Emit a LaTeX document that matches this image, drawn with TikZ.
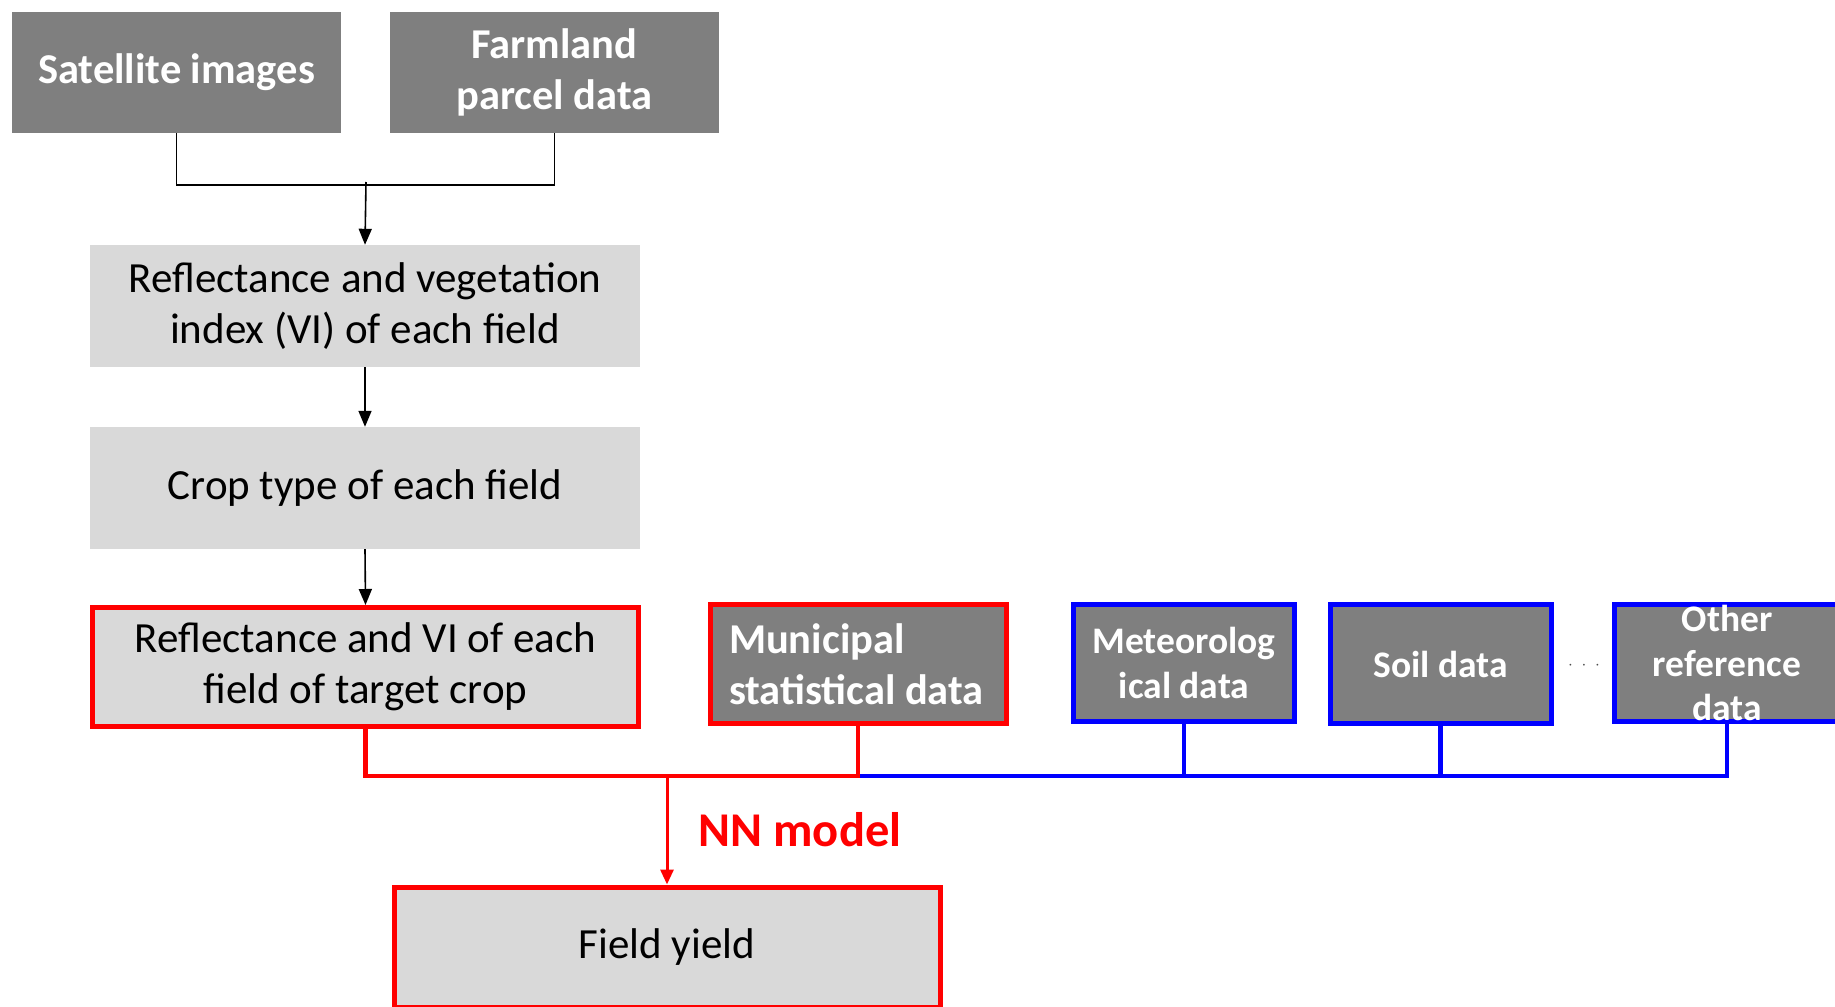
\documentclass[tikz,border=0pt]{standalone}
\usepackage{fontspec}
\setmainfont{Carlito}
\usetikzlibrary{arrows.meta}
\definecolor{dgray}{HTML}{7F7F7F}
\definecolor{lgray}{HTML}{D9D9D9}
\definecolor{pred}{HTML}{FF0000}
\definecolor{pblue}{HTML}{0000FF}
\tikzset{
  darkbox/.style={fill=dgray, text=white, font=\fontsize{42.5}{51}\selectfont\bfseries, align=center, inner sep=0pt},
  smalldark/.style={darkbox, font=\fontsize{37.5}{44.5}\selectfont\bfseries},
  lightbox/.style={fill=lgray, text=black, font=\fontsize{43}{51}\selectfont, align=center, inner sep=0pt},
  redframe/.style={draw=pred, line width=5pt},
  blueframe/.style={draw=pblue, line width=5pt},
  blk/.style={draw=black, line width=1.6pt},
  blkarrow/.style={blk, -{Triangle[length=16pt,width=13pt]}},
  redline/.style={draw=pred, line width=4.6pt},
  blueline/.style={draw=pblue, line width=4.6pt},
  redarrow/.style={draw=pred, line width=3pt, -{Triangle[length=15pt,width=13pt]}},
}
\begin{document}
\begin{tikzpicture}[x=1pt,y=-1pt]
\useasboundingbox (0,0) rectangle (1835,1006);
\clip (0,0) rectangle (1835,1006);
% top sources
\node[darkbox, minimum width=329pt, minimum height=121pt] (sat) at (176.5,72.5) {Satellite images};
\node[darkbox, minimum width=329pt, minimum height=121pt] (farm) at (554.5,72.5) {Farmland\\parcel data};
% process chain
\node[lightbox, minimum width=550pt, minimum height=122pt] (b2) at (365,306) {Reflectance and vegetation\\index (VI) of each field};
\node[lightbox, minimum width=550pt, minimum height=122pt] (b3) at (365,488) {Crop type of each field};
\node[lightbox, redframe, minimum width=546pt, minimum height=119pt] (b4) at (365.5,667) {Reflectance and VI of each\\field of target crop};
% secondary inputs
\node[darkbox, redframe, minimum width=296pt, minimum height=119pt, text width=258pt, align=flush left] (mun) at (858,664) {Municipal\\statistical data};
\node[smalldark, blueframe, minimum width=221pt, minimum height=117pt] (met) at (1184,663) {Meteorolog\\ical data};
\node[smalldark, blueframe, minimum width=221pt, minimum height=119pt] (soil) at (1440.5,664) {Soil data};
\node[smalldark, blueframe, minimum width=225pt, minimum height=117pt] (oth) at (1727,663) {Other\\reference\\data};
\node[font=\fontsize{16}{16}\selectfont, text=black!70] (dots) at (1584,666) {$\cdot\;\cdot\;\cdot$};
% output
\node[lightbox, redframe, minimum width=546pt, minimum height=120pt] (fy) at (667,947) {Field yield};
% connectors (top)
\coordinate (jt) at (366,185);
\draw[blk] (sat.south) -- (sat.south |- jt) -- (farm.south |- jt) -- (farm.south);
\draw[blkarrow] ([yshift=3pt]jt) -- (b2.north);
\draw[blkarrow] (b2.south) -- (b3.north);
\draw[blkarrow] (b3.south) -- (b4.north);
% bottom connectors
\coordinate (jb) at (667,776);
\draw[blueline] (mun.south |- jb) -- (oth.south |- jb) -- (oth.south);
\draw[blueline] (met.south) -- (met.south |- jb);
\draw[blueline] (soil.south) -- (soil.south |- jb);
\draw[redline, line join=miter] (b4.south) -- (b4.south |- jb) -- (mun.south |- jb) -- (mun.south);
\draw[redarrow] (jb) -- (fy.north);
\node[text=pred, font=\fontsize{48.5}{56}\selectfont\bfseries] (nn) at (800,830) {NN model};
\end{tikzpicture}
\end{document}
